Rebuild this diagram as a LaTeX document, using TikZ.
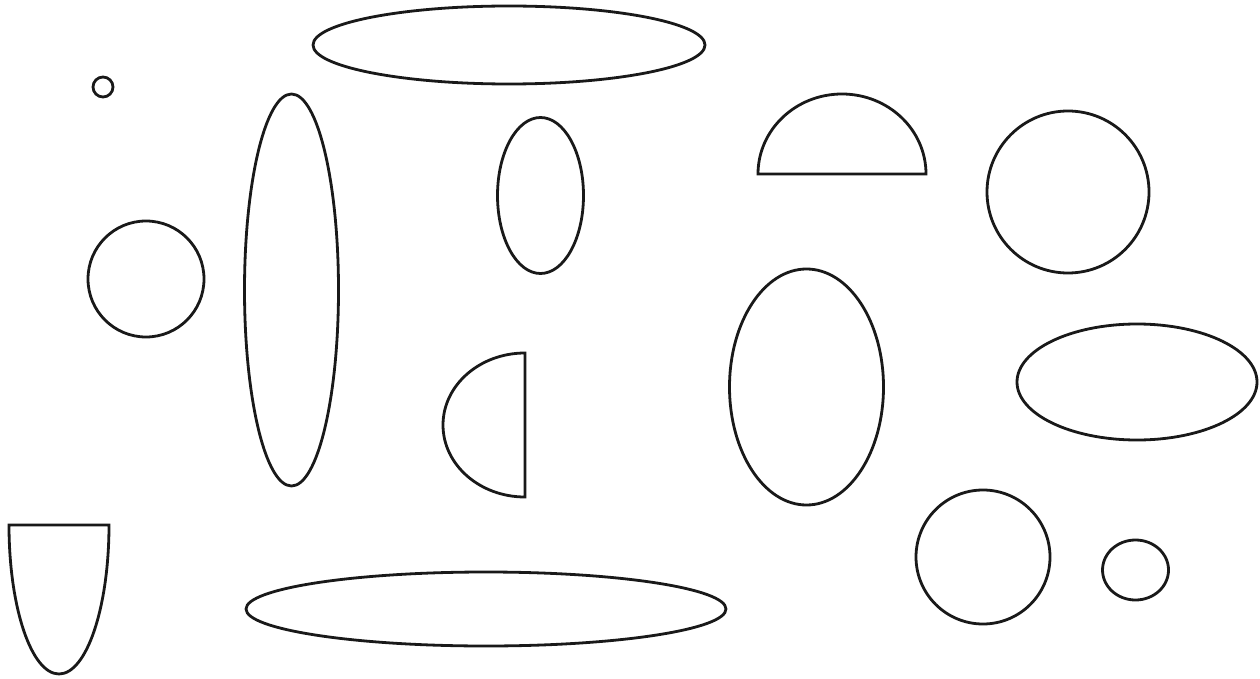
\documentclass[tikz,border=0pt]{standalone}
\usepackage{tikz}

\begin{document}
\begin{tikzpicture}[x=1pt, y=-1pt, fig/.style={draw=black!90, line width=2.8pt}]
\useasboundingbox[fill=white] (0,0) rectangle (1260,679);
\draw[fig] (103,87) circle[radius=10pt];
\draw[fig] (509,45) ellipse[x radius=196pt, y radius=39pt];
\draw[fig] (291.5,290) ellipse[x radius=47pt, y radius=196pt];
\draw[fig] (146,279) circle[radius=58pt];
\draw[fig] (540.5,195.5) ellipse[x radius=43pt, y radius=78pt];
\draw[fig] (758,174) arc[start angle=180, end angle=0, x radius=84pt, y radius=80pt] -- cycle;
\draw[fig] (1068,192) circle[radius=81pt];
\draw[fig] (525,353) arc[start angle=90, end angle=270, x radius=82pt, y radius=72pt] -- cycle;
\draw[fig] (806.5,387) ellipse[x radius=77pt, y radius=118pt];
\draw[fig] (1137,382) ellipse[x radius=120pt, y radius=58pt];
\draw[fig] (983,557) circle[radius=67pt];
\draw[fig] (1135.5,570) ellipse[x radius=33pt, y radius=30pt];
\draw[fig] (486,609) ellipse[x radius=240pt, y radius=37pt];
\draw[fig] (9,525) arc[start angle=180, end angle=360, x radius=50pt, y radius=149pt] -- cycle;
\end{tikzpicture}
\end{document}
